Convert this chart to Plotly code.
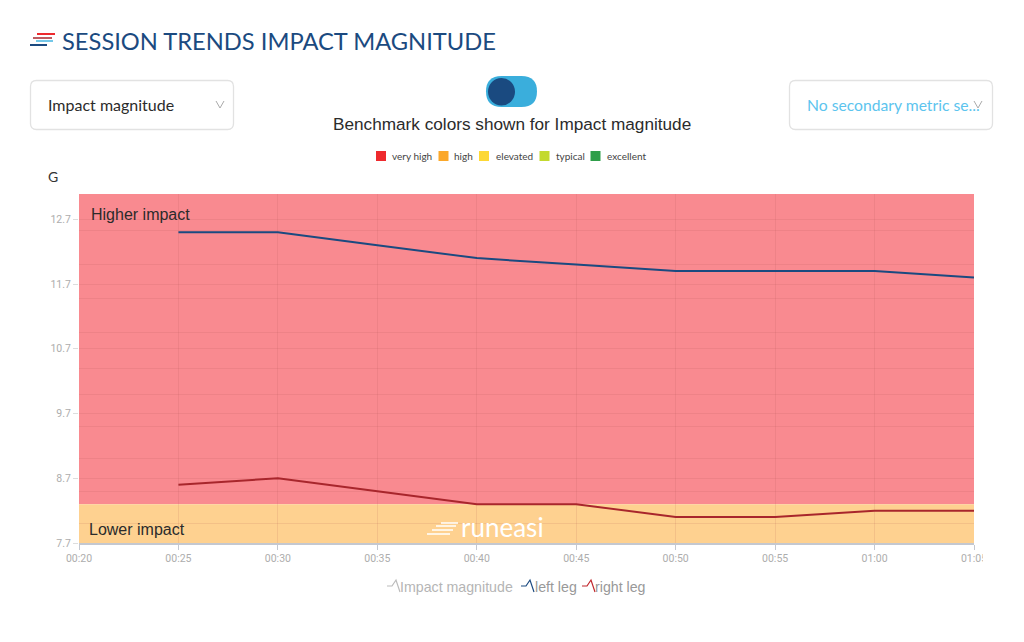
import plotly.graph_objects as go

# ---------- data ----------
minutes = [25, 30, 35, 40, 45, 50, 55, 60, 65]
left_leg = [12.5, 12.5, 12.3, 12.1, 12.0, 11.9, 11.9, 11.9, 11.8]
right_leg = [8.6, 8.7, 8.5, 8.3, 8.3, 8.1, 8.1, 8.2, 8.2]
x_tick_vals = [20, 25, 30, 35, 40, 45, 50, 55, 60, 65]
x_tick_text = ["00:20", "00:25", "00:30", "00:35", "00:40", "00:45", "00:50", "00:55", "01:00", "01:05"]
y_tick_vals = [7.7, 8.7, 9.7, 10.7, 11.7, 12.7]
y_tick_text = ["7.7", "8.7", "9.7", "10.7", "11.7", "12.7"]
y_minor_grid = [8.0, 8.5, 9.0, 9.5, 10.0, 10.4, 10.95, 11.47, 12.0, 12.53]
y_min, band_split, y_max = 7.7, 8.3, 13.09
benchmark_names = ["very high", "high", "elevated", "typical", "excellent"]
benchmark_colors = ["#ee2a2e", "#fba82a", "#fdd835", "#c3d92f", "#2f9e4a"]

W, H = 1024, 642
def X(p): return p / W
def Y(p): return 1 - p / H

def rounded(x0, y0, x1, y1, r):
    return (f"M {X(x0+r)} {Y(y0)} L {X(x1-r)} {Y(y0)} Q {X(x1)} {Y(y0)} {X(x1)} {Y(y0+r)} "
            f"L {X(x1)} {Y(y1-r)} Q {X(x1)} {Y(y1)} {X(x1-r)} {Y(y1)} "
            f"L {X(x0+r)} {Y(y1)} Q {X(x0)} {Y(y1)} {X(x0)} {Y(y1-r)} "
            f"L {X(x0)} {Y(y0+r)} Q {X(x0)} {Y(y0)} {X(x0+r)} {Y(y0)} Z")

def polyline(pts):
    return "M " + " L ".join(f"{X(a)} {Y(b)}" for a, b in pts)

shapes, annotations = [], []

def page_line(x0, y0, x1, y1, color, w=2):
    shapes.append(dict(type="line", xref="paper", yref="paper", x0=X(x0), x1=X(x1), y0=Y(y0), y1=Y(y1),
                       line=dict(color=color, width=w), layer="above"))

def page_path(path, line=None, fill=None, w=1):
    shapes.append(dict(type="path", xref="paper", yref="paper", path=path, layer="above",
                       line=dict(color=line or "rgba(0,0,0,0)", width=w if line else 0),
                       fillcolor=fill or "rgba(0,0,0,0)"))

def text(x, y, s, size, color, font="Lato", anchor="left"):
    annotations.append(dict(xref="paper", yref="paper", x=X(x - 2 if anchor == "left" else x), y=Y(y), text=s,
                            showarrow=False, xanchor=anchor, yanchor="middle", align=anchor,
                            font=dict(family=font, size=size, color=color)))

# bands
shapes.append(dict(type="rect", xref="x", yref="y", x0=x_tick_vals[0], x1=x_tick_vals[-1], y0=band_split, y1=y_max,
                   fillcolor="#f98a90", line_width=0, layer="below"))
shapes.append(dict(type="rect", xref="x", yref="y", x0=x_tick_vals[0], x1=x_tick_vals[-1], y0=y_min, y1=band_split,
                   fillcolor="#fed190", line_width=0, layer="below"))

# title + icon
page_line(37, 34, 55, 34, "#ee2a2e", 2)
page_line(33, 38, 52, 38, "#a8262c", 1.5)
page_line(36, 41, 53, 41, "#45b4e0", 1.5)
page_line(30, 45, 47, 45, "#1b4a80", 2)
text(61.5, 41, "SESSION TRENDS IMPACT MAGNITUDE", 23.7, "#1b4a80")

# dropdowns
page_path(rounded(30.5, 80.5, 233.5, 129.5, 6), line="#e2e2e2", fill="#ffffff", w=1.3)
text(48, 105, "Impact magnitude", 16, "#2b2b2b")
page_path(polyline([(216, 101), (220, 108), (224, 101)]), line="#aaaaaa", w=1)
page_path(rounded(789.5, 80.5, 992.5, 129.5, 6), line="#e2e2e2", fill="#ffffff", w=1.3)
text(807, 105, "No secondary metric se...", 15.7, "#5cc4ee")
page_path(polyline([(974, 101), (978, 108), (982, 101)]), line="#aaaaaa", w=1)

# toggle
page_path(rounded(486, 76, 537, 107, 15.5), fill="#3aaedc")
shapes.append(dict(type="circle", xref="paper", yref="paper", x0=X(488), x1=X(515), y0=Y(105.5), y1=Y(78),
                   fillcolor="#1a4a80", line_width=0, layer="above"))
text(512, 123.5, "Benchmark colors shown for Impact magnitude", 17.2, "#2b2b2b", "Liberation Sans", "center")

# benchmark legend
sw_x = [376, 438.5, 479, 539.5, 590.5]
lb_x = [392, 454, 495.5, 555.5, 606.5]
for sx, lx, name, col in zip(sw_x, lb_x, benchmark_names, benchmark_colors):
    shapes.append(dict(type="rect", xref="paper", yref="paper", x0=X(sx), x1=X(sx + 10), y0=Y(161), y1=Y(151),
                       fillcolor=col, line_width=0, layer="above"))
    text(lx, 155.5, name, 10, "#444444")

# axis unit, region labels
text(48, 176.5, "G", 14, "#333333")
text(90.5, 214.5, "Higher impact", 16, "#2b2b2b", "Liberation Sans")
text(89, 529.5, "Lower impact", 16, "#2b2b2b", "Liberation Sans")

# watermark
for y0, x0, x1 in [(523, 441, 458), (526, 436, 456), (530, 432, 453), (534, 427, 450)]:
    page_line(x0, y0, x1, y0, "#ffffff", 1.5)
text(461, 527, "runeasi", 26, "#ffffff", "Lato")

# bottom legend
for pts, col in [
    ([(387, 586), (392, 586), (396, 580), (400, 592)], "#bbbbbb"),
    ([(521, 586), (526, 586), (530, 580), (534, 592)], "#1b4a80"),
    ([(582, 586), (587, 586), (591, 580), (595, 592)], "#c0262c"),
]:
    page_path(polyline(pts), line=col, w=1.2)
text(400, 586.5, "Impact magnitude", 14.2, "#b5b5b5", "Liberation Sans")
text(535, 586.5, "left leg", 14.2, "#999999", "Liberation Sans")
text(595, 586.5, "right leg", 14.2, "#999999", "Liberation Sans")

# clip right tick label as in the page
shapes.append(dict(type="rect", xref="paper", yref="paper", x0=X(983), x1=1, y0=Y(566), y1=Y(550),
                   fillcolor="#ffffff", line_width=0, layer="above"))

fig = go.Figure()
fig.add_trace(go.Scatter(x=minutes, y=left_leg, mode="lines", name="left leg",
                         line=dict(color="#1b4a80", width=2), hoverinfo="skip"))
fig.add_trace(go.Scatter(x=minutes, y=right_leg, mode="lines", name="right leg",
                         line=dict(color="#a8262c", width=2), hoverinfo="skip"))

grid = "rgba(170,80,80,0.13)"
fig.update_layout(
    width=W, height=H, margin=dict(l=0, r=0, t=0, b=0, autoexpand=False), showlegend=False,
    paper_bgcolor="#ffffff", plot_bgcolor="#ffffff", shapes=shapes, annotations=annotations,
    xaxis=dict(domain=[X(79), X(974)], range=[x_tick_vals[0], x_tick_vals[-1]], tickmode="array",
               tickvals=x_tick_vals, ticktext=x_tick_text, ticks="outside", ticklen=5, tickcolor="#c4c8d0",
               showline=True, linecolor="#c4c8d0", linewidth=1.5, showgrid=True, gridcolor=grid, gridwidth=1,
               zeroline=False, tickfont=dict(family="Roboto", size=10.5, color="#adadad")),
    yaxis=dict(domain=[Y(543), Y(194)], range=[y_min, y_max], tickmode="array",
               tickvals=y_tick_vals, ticktext=y_tick_text, ticks="outside", ticklen=5, tickcolor="#dddddd",
               showline=False, showgrid=True, gridcolor=grid, gridwidth=1, zeroline=False,
               tickfont=dict(family="Roboto", size=10.5, color="#adadad"),
               minor=dict(tickmode="array", tickvals=y_minor_grid, showgrid=True, gridcolor=grid, gridwidth=1, ticks="")),
)
fig.write_html("out.html", config={"displayModeBar": False},
               post_script="document.body.style.margin='0';document.body.style.overflow='hidden';")
